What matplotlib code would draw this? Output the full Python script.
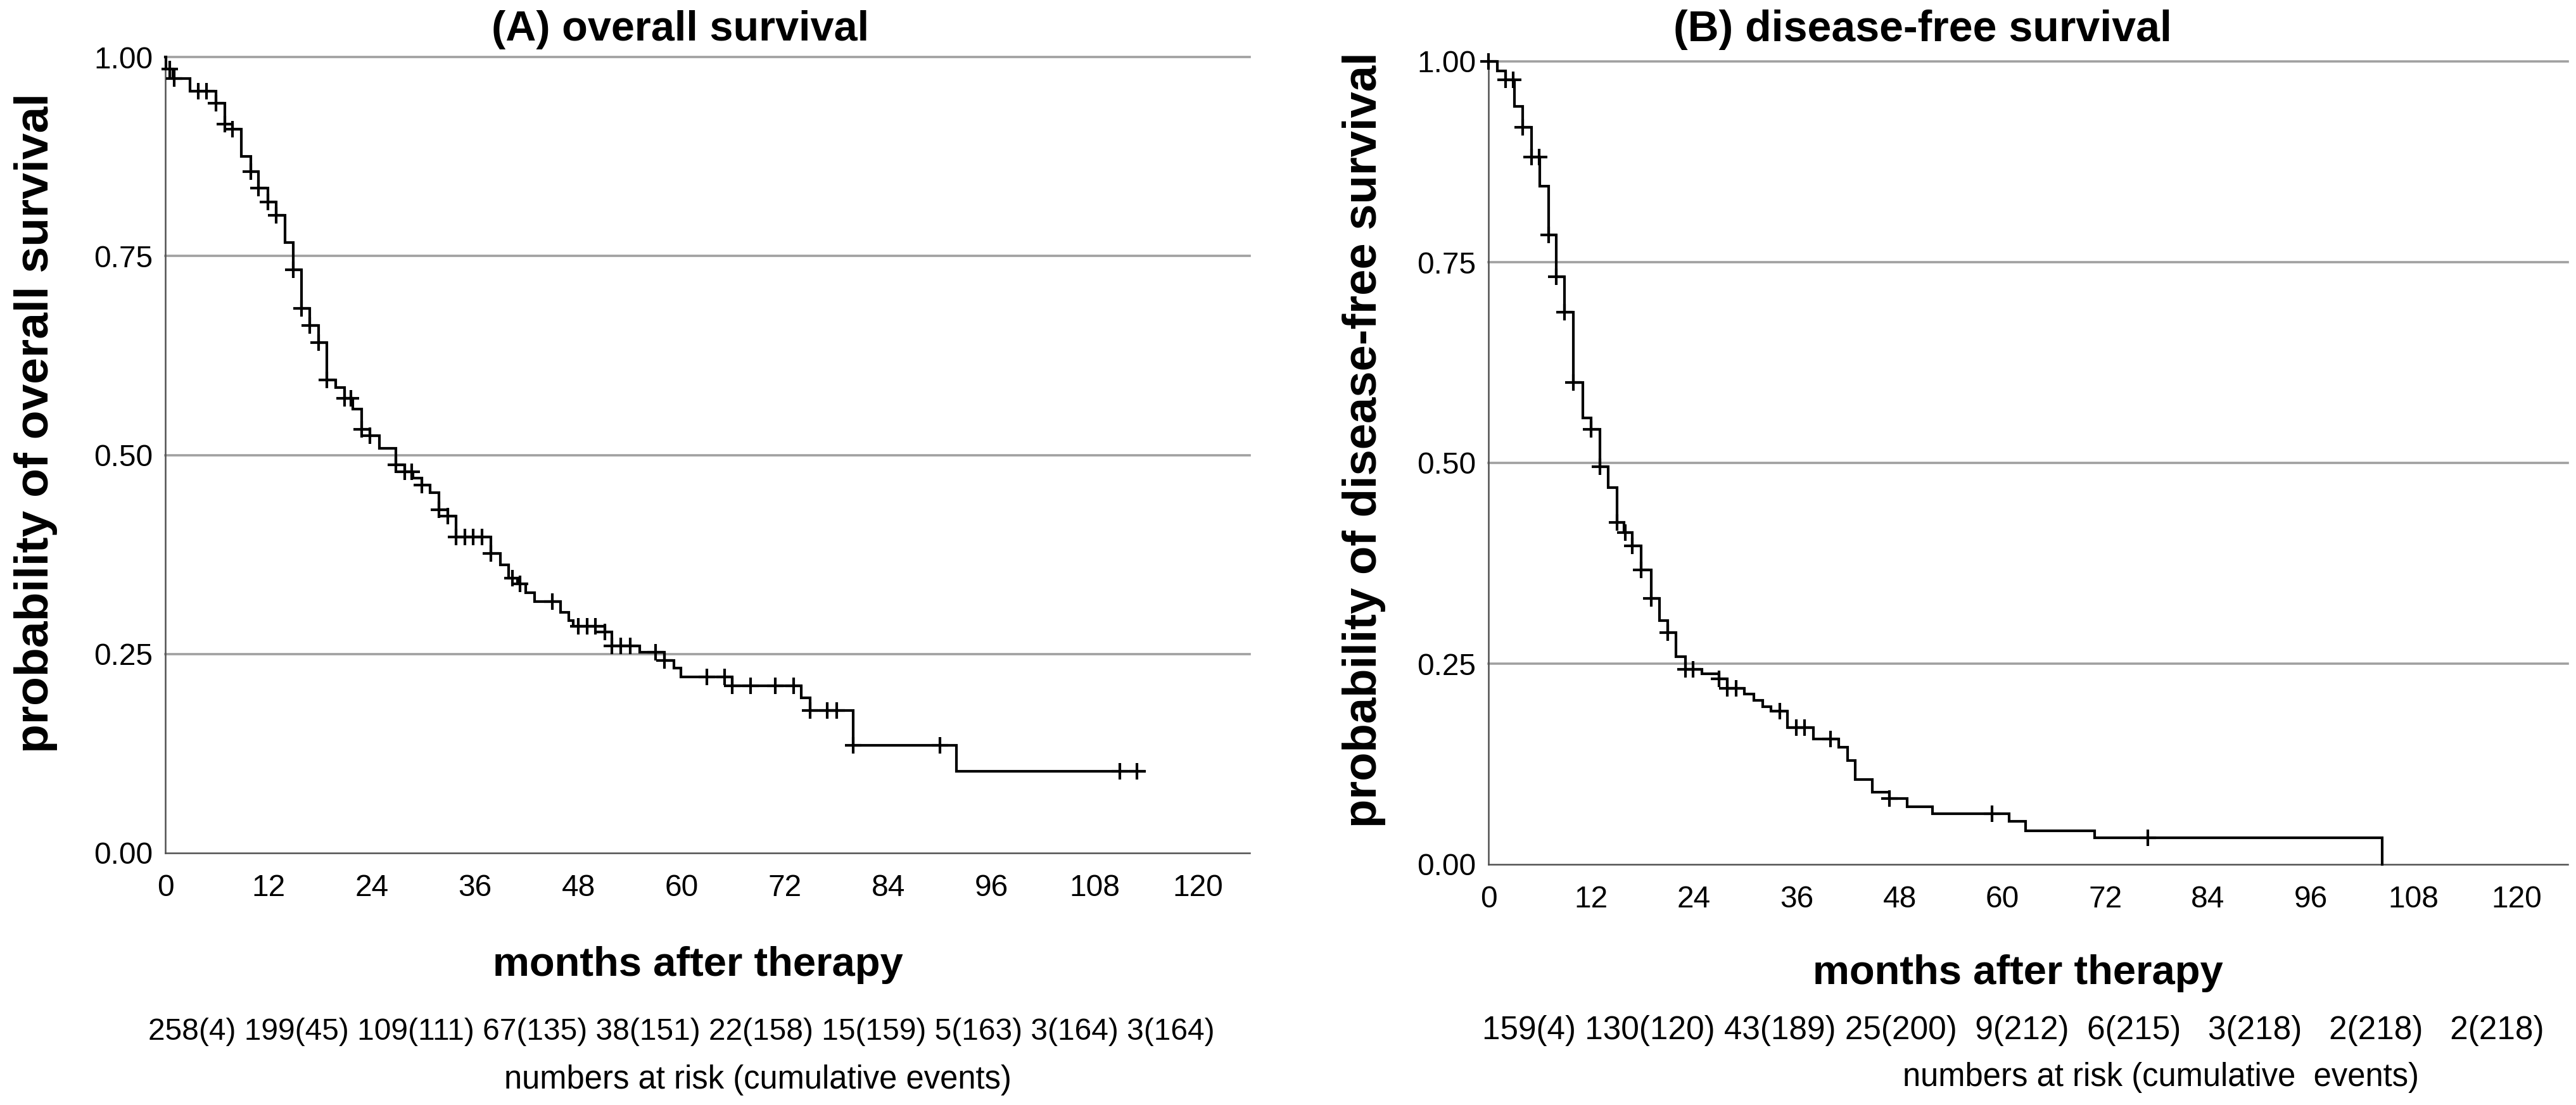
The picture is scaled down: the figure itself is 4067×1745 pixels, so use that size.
import numpy as np
import matplotlib
matplotlib.use("Agg")
import matplotlib.pyplot as plt

plt.rcParams['font.family'] = ['Liberation Sans', 'DejaVu Sans']

# ---------------- data ----------------
# (A) overall survival: event times (months) and survival after each step
os_times = [0, 0.1, 0.9, 2.9, 5.9, 6.9, 7.8, 8.8, 9.9, 10.8, 11.9, 12.9, 13.9, 14.9,
            15.8, 16.8, 17.8, 18.8, 19.8, 20.8, 21.8, 22.8, 23.8, 24.9, 26.8, 27.8,
            28.8, 29.8, 30.8, 31.8, 32.8, 33.8, 37.8, 38.9, 39.9, 40.9, 41.9, 42.9,
            45.9, 46.9, 47.4, 51.1, 51.9, 55.1, 58.0, 59.1, 59.9, 65.9, 73.9, 74.9,
            79.9, 91.9]
os_surv = [1.0, 0.985, 0.973, 0.957, 0.942, 0.916, 0.909, 0.875, 0.856, 0.835, 0.818,
           0.801, 0.767, 0.733, 0.684, 0.663, 0.641, 0.594, 0.585, 0.571, 0.558, 0.532,
           0.524, 0.508, 0.488, 0.479, 0.471, 0.462, 0.453, 0.431, 0.423, 0.397, 0.376,
           0.362, 0.345, 0.338, 0.327, 0.316, 0.302, 0.292, 0.285, 0.278, 0.260, 0.252,
           0.242, 0.232, 0.221, 0.210, 0.195, 0.179, 0.135, 0.103]
os_end = 113.8
os_censor = [0.5, 1.0, 3.8, 4.8, 5.9, 6.9, 7.8, 9.9, 10.8, 11.9, 12.9, 14.9, 15.8, 16.8,
             17.8, 18.8, 20.8, 21.6, 22.8, 23.8, 26.8, 27.8, 28.6, 29.8, 31.8, 32.8,
             33.8, 34.8, 35.8, 36.8, 37.8, 40.3, 41.2, 45.0, 48.0, 49.0, 50.0, 51.1,
             51.9, 52.9, 54.0, 57.0, 58.0, 62.9, 65.0, 65.9, 68.0, 70.9, 73.0, 74.9,
             76.9, 78.0, 79.9, 90.0, 110.9, 112.9]

# (B) disease-free survival
dfs_times = [0, 1.0, 2.0, 3.0, 4.0, 5.0, 6.0, 7.0, 7.9, 8.9, 9.9, 11.0, 12.0, 13.0,
             14.0, 15.0, 15.8, 16.8, 17.8, 19.0, 20.0, 20.9, 21.9, 23.0, 24.9, 26.9,
             27.9, 29.9, 31.0, 32.0, 33.0, 34.9, 37.9, 40.9, 41.9, 42.8, 44.8, 46.8,
             48.9, 51.8, 60.8, 62.7, 70.8, 104.3]
dfs_surv = [1.0, 0.988, 0.977, 0.944, 0.918, 0.881, 0.845, 0.784, 0.732, 0.688, 0.600,
            0.556, 0.542, 0.495, 0.469, 0.426, 0.413, 0.397, 0.367, 0.331, 0.304, 0.289,
            0.259, 0.243, 0.237, 0.231, 0.219, 0.212, 0.204, 0.196, 0.191, 0.170, 0.156,
            0.146, 0.129, 0.106, 0.090, 0.082, 0.072, 0.063, 0.054, 0.042, 0.033, 0.0]
dfs_end = 104.3
dfs_censor = [0.0, 2.0, 2.9, 4.0, 5.0, 5.9, 7.0, 7.9, 8.9, 9.9, 12.0, 13.0, 15.0, 16.0,
              16.8, 17.8, 19.0, 20.9, 23.0, 23.9, 26.9, 27.9, 28.9, 34.0, 35.9, 36.9,
              39.9, 46.8, 58.8, 77.0]

x_ticks = [0, 12, 24, 36, 48, 60, 72, 84, 96, 108, 120]
y_ticks = [0.0, 0.25, 0.50, 0.75, 1.00]
y_ticklabels = ["0.00", "0.25", "0.50", "0.75", "1.00"]

os_risk = ["258(4)", "199(45)", "109(111)", "67(135)", "38(151)", "22(158)",
           "15(159)", "5(163)", "3(164)", "3(164)"]
dfs_risk = ["159(4)", "130(120)", "43(189)", "25(200)", "9(212)", "6(215)",
            "3(218)", "2(218)", "2(218)"]

titles = ["(A) overall survival", "(B) disease-free survival"]
ylabels = ["probability of overall survival", "probability of disease-free survival"]
xlabel = "months after therapy"
risk_caption = "numbers at risk (cumulative events)"

# ---------------- figure ----------------
W, H = 4067, 1745
fig = plt.figure(figsize=(W / 100, H / 100), dpi=100)

axA = fig.add_axes([261 / W, 1 - 1347 / H, 1712 / W, (1347 - 90) / H])
axB = fig.add_axes([2350 / W, 1 - 1365 / H, 1704 / W, (1365 - 97) / H])

LW = 3.0
GRID = '#a0a0a0'
SPINE = '#505050'
TICK_FS = 34.5


def km(ax, times, surv, end, censor):
    t = list(times) + [end]
    s = list(surv) + [surv[-1]]
    ax.step(t, s, where='post', color='black', lw=LW, solid_joinstyle='miter',
            clip_on=False, zorder=3)
    tarr = np.asarray(times)
    idx = np.searchsorted(tarr, censor, side='right') - 1
    cy = np.asarray(surv)[idx]
    ax.plot(censor, cy, ls='none', marker='+', ms=19, mew=3.0, color='black',
            clip_on=False, zorder=4)


for ax, (times, surv, end, censor) in zip(
        [axA, axB],
        [(os_times, os_surv, os_end, os_censor),
         (dfs_times, dfs_surv, dfs_end, dfs_censor)]):
    ax.set_xlim(0, 126)
    ax.set_ylim(0, 1.0)
    for yv in y_ticks[1:]:
        ax.axhline(yv, color=GRID, lw=2.6, zorder=1, clip_on=False)
    km(ax, times, surv, end, censor)
    ax.set_xticks(x_ticks)
    ax.set_xticklabels([str(v) for v in x_ticks], fontsize=TICK_FS)
    ax.set_yticks(y_ticks)
    ax.set_yticklabels(y_ticklabels, fontsize=TICK_FS)
    ax.tick_params(length=0, pad=14)
    ax.tick_params(axis='x', pad=24)
    for sp in ['top', 'right']:
        ax.spines[sp].set_visible(False)
    for sp in ['left', 'bottom']:
        ax.spines[sp].set_color(SPINE)
        ax.spines[sp].set_linewidth(1.8)


def fx(px):
    return px / W


def fy(py):
    return 1 - py / H


# titles
fig.text(fx(1074), fy(47), titles[0], ha='center', va='center', fontsize=48, fontweight='bold')
fig.text(fx(3036), fy(47), titles[1], ha='center', va='center', fontsize=49, fontweight='bold')

# y labels
fig.text(fx(57), fy(668), ylabels[0], ha='center', va='center', rotation=90,
         fontsize=54, fontweight='bold')
fig.text(fx(2153), fy(695), ylabels[1], ha='center', va='center', rotation=90,
         fontsize=53.5, fontweight='bold')

# x labels
fig.text(fx(1102), fy(1524), xlabel, ha='center', va='center', fontsize=47, fontweight='bold')
fig.text(fx(3186), fy(1537), xlabel, ha='center', va='center', fontsize=47, fontweight='bold')

# numbers at risk rows
rowA = " ".join(os_risk)
rowB = " ".join(dfs_risk[:4]) + "  " + "  ".join(dfs_risk[4:6]) + "   " + "   ".join(dfs_risk[6:])
fig.text(fx(1076), fy(1630), rowA, ha='center', va='center', fontsize=TICK_FS)
fig.text(fx(3178), fy(1628), rowB, ha='center', va='center', fontsize=37)

fig.text(fx(1196), fy(1705), risk_caption, ha='center', va='center', fontsize=36.5)
fig.text(fx(3411), fy(1702), risk_caption.replace("(cumulative ", "(cumulative  "),
         ha='center', va='center', fontsize=36.5)

fig.savefig("out.png", dpi=100, facecolor='white')
